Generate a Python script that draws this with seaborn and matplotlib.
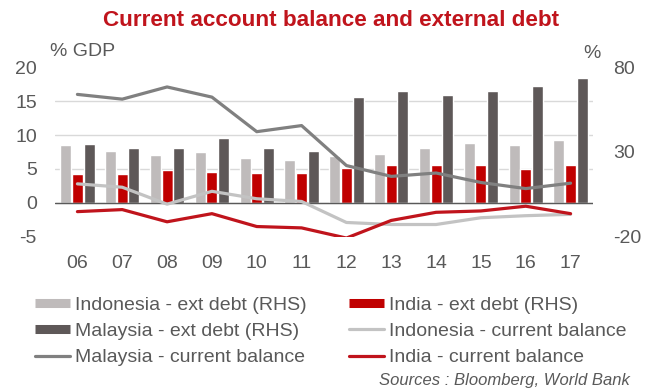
import numpy as np
import pandas as pd
import matplotlib
matplotlib.use("Agg")
import matplotlib.pyplot as plt
import seaborn as sns
from matplotlib.lines import Line2D

# --- data -------------------------------------------------------------
years = ["06", "07", "08", "09", "10", "11", "12", "13", "14", "15", "16", "17"]

# external debt, % of GDP (right-hand scale)
indonesia_debt = [34.0, 30.5, 28.0, 30.0, 26.6, 25.0, 27.4, 29.0, 32.3, 35.5, 33.9, 37.2]
india_debt = [16.8, 16.8, 19.1, 18.3, 17.5, 17.5, 20.7, 22.5, 22.5, 22.5, 20.1, 22.5]
malaysia_debt = [34.7, 32.3, 32.3, 38.0, 32.3, 30.5, 62.4, 65.8, 63.5, 65.8, 69.1, 73.4]

# current account balance, % of GDP (left-hand scale)
malaysia_cab = [16.0, 15.3, 17.1, 15.6, 10.5, 11.4, 5.5, 3.9, 4.4, 3.0, 2.1, 2.9]
indonesia_cab = [2.8, 2.3, -0.2, 1.7, 0.6, 0.2, -2.9, -3.2, -3.2, -2.2, -1.9, -1.7]
india_cab = [-1.3, -1.0, -2.8, -1.6, -3.5, -3.7, -5.2, -2.6, -1.4, -1.2, -0.5, -1.6]

debt_series = ["Indonesia - ext debt (RHS)", "India - ext debt (RHS)", "Malaysia - ext debt (RHS)"]
cab_series = ["Malaysia - current balance", "Indonesia - current balance", "India - current balance"]

# --- styling ----------------------------------------------------------
TXT = "#595959"
C_IDN_BAR = "#BFBBBB"
C_IND = "#C00000"
C_MYS_BAR = "#5E5858"
C_MYS_LINE = "#808080"
C_IDN_LINE = "#C3C3C3"
C_IND_LINE = "#C0141C"

sns.set_theme(style="white")
plt.rcParams["font.family"] = ["Liberation Sans", "DejaVu Sans"]
plt.rcParams["text.color"] = TXT
plt.rcParams["xtick.color"] = TXT
plt.rcParams["ytick.color"] = TXT
plt.rcParams["axes.unicode_minus"] = False

debt = pd.DataFrame({
    "year": years * 3,
    "series": np.repeat(debt_series, len(years)),
    "value": indonesia_debt + india_debt + malaysia_debt,
})
cab = pd.DataFrame({
    "pos": list(range(len(years))) * 3,
    "series": np.repeat(cab_series, len(years)),
    "value": malaysia_cab + indonesia_cab + india_cab,
})

fig = plt.figure(figsize=(6.53, 3.89), dpi=100)
ax = fig.add_axes([55 / 653, 1 - 236.7 / 389, (593 - 55) / 653, (236.7 - 67.3) / 389])

# bars on the right-hand scale
sns.barplot(data=debt, x="year", y="value", hue="series", hue_order=debt_series,
            palette=[C_IDN_BAR, C_IND, C_MYS_BAR], saturation=1,
            width=0.78, gap=0.06, legend=False, ax=ax)
ax.set_ylim(-20, 80)
ax.set_yticks([-20, 30, 80])
ax.set_yticks([-20, 0, 20, 40, 60, 80], minor=True)
ax.grid(False)
ax.grid(True, which="minor", axis="y", color="#D9D9D9", lw=1)
ax.set_axisbelow(True)
ax.axhline(0, color=TXT, lw=1, zorder=3)

# lines on the left-hand scale
ax2 = ax.twinx()
sns.lineplot(data=cab, x="pos", y="value", hue="series", hue_order=cab_series,
             palette=[C_MYS_LINE, C_IDN_LINE, C_IND_LINE], lw=2.3,
             legend=False, ax=ax2)
ax2.set_ylim(-5, 20)
ax2.set_yticks([-5, 0, 5, 10, 15, 20])
ax2.grid(False)
ax.set_xlim(-0.5, len(years) - 0.5)

# debt scale on the right, balance scale on the left
ax.yaxis.tick_right()
ax2.yaxis.tick_left()

for a in (ax, ax2):
    for s in a.spines.values():
        s.set_visible(False)
    a.set_xlabel("")
    a.set_ylabel("")
    a.tick_params(length=0, which="both", labelsize=14)
ax.tick_params(axis="y", pad=14.4)
ax2.tick_params(axis="y", pad=13)
ax.tick_params(axis="x", pad=13)

# axis unit labels and title
fig.text(50 / 653, 1 - 52 / 389, "% GDP", fontsize=14, ha="left", va="center")
fig.text(592 / 653, 1 - 53 / 389, "%", fontsize=14, ha="center", va="center")
fig.text(331 / 653, 1 - 20 / 389, "Current account balance and external debt",
         fontsize=16.2, fontweight="bold", color=C_IND_LINE, ha="center", va="center")

# legend
handles = [
    Line2D([0], [0], color=C_IDN_BAR, lw=6.5, solid_capstyle="butt"),
    Line2D([0], [0], color=C_MYS_BAR, lw=6.5, solid_capstyle="butt"),
    Line2D([0], [0], color=C_MYS_LINE, lw=2.3),
    Line2D([0], [0], color=C_IND, lw=6.5, solid_capstyle="butt"),
    Line2D([0], [0], color=C_IDN_LINE, lw=2.3),
    Line2D([0], [0], color=C_IND_LINE, lw=2.3),
]
labels = [debt_series[0], debt_series[2], cab_series[0],
          debt_series[1], cab_series[1], cab_series[2]]
fig.legend(handles, labels, ncol=2, loc="upper left",
           bbox_to_anchor=(35 / 653, 1 - 296 / 389), frameon=False,
           fontsize=14, handlelength=1.8, handletextpad=0.25,
           labelspacing=0.45, columnspacing=2.2, borderpad=0, borderaxespad=0,
           labelcolor=TXT)

fig.text(630 / 653, 1 - 380 / 389, "Sources : Bloomberg, World Bank",
         fontsize=12, style="italic", ha="right", va="center")

fig.savefig("out.png", dpi=100)
